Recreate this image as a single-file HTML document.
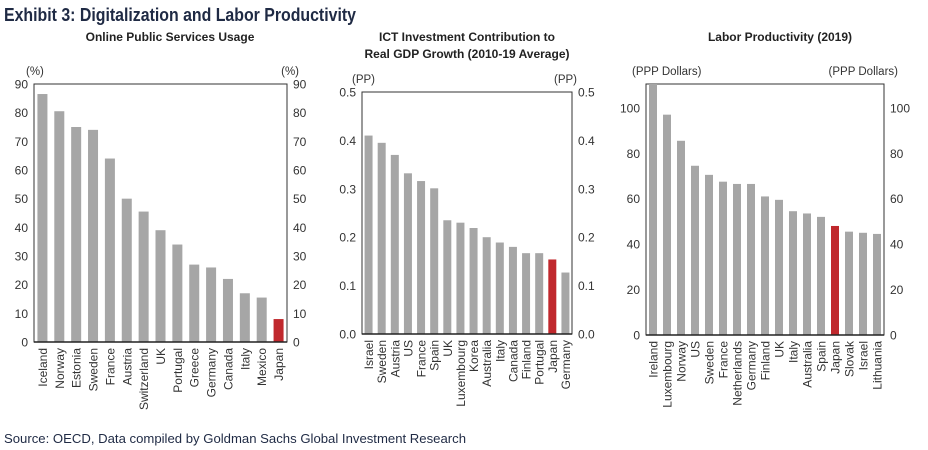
<!DOCTYPE html>
<html><head><meta charset="utf-8"><style>
html,body{margin:0;padding:0;background:#fff;}
svg{display:block;font-family:"Liberation Sans",Arial,sans-serif;}
</style></head><body>
<svg id="s" width="928" height="450" viewBox="0 0 928 450" xmlns="http://www.w3.org/2000/svg">
<text x="4" y="21" font-size="18" font-weight="bold" fill="#1f2a44" textLength="352" lengthAdjust="spacingAndGlyphs">Exhibit 3: Digitalization and Labor Productivity</text>
<text x="170" y="41" font-size="12" font-weight="bold" fill="#222" text-anchor="middle">Online Public Services Usage</text>
<text x="467" y="41" font-size="12" font-weight="bold" fill="#222" text-anchor="middle">ICT Investment Contribution to</text>
<text x="467" y="58" font-size="12" font-weight="bold" fill="#222" text-anchor="middle">Real GDP Growth (2010-19 Average)</text>
<text x="780" y="41" font-size="12" font-weight="bold" fill="#222" text-anchor="middle">Labor Productivity (2019)</text>
<text x="4" y="443" font-size="13" fill="#1f2a44" textLength="462" lengthAdjust="spacingAndGlyphs">Source: OECD, Data compiled by Goldman Sachs Global Investment Research</text>
</svg>
<script>
const c1Cats=["Iceland","Norway","Estonia","Sweden","France","Austria","Switzerland","UK","Portugal","Greece","Germany","Canada","Italy","Mexico","Japan"];
const c1Vals=[86.5,80.5,75,74,64,50,45.5,39,34,27,26,22,17,15.5,8];
const c1Ticks=["0","10","20","30","40","50","60","70","80","90"];
const c2Cats=["Israel","Sweden","Austria","US","France","Spain","UK","Luxembourg","Korea","Australia","Italy","Canada","Finland","Portugal","Japan","Germany"];
const c2Vals=[0.41,0.395,0.37,0.332,0.316,0.301,0.235,0.23,0.219,0.2,0.189,0.18,0.167,0.167,0.154,0.127];
const c2Ticks=["0.0","0.1","0.2","0.3","0.4","0.5"];
const c3Cats=["Ireland","Luxembourg","Norway","US","Sweden","France","Netherlands","Germany","Finland","UK","Italy","Australia","Spain","Japan","Slovak","Israel","Lithuania"];
const c3Vals=[112,97,85.5,74.5,70.5,67.5,66.5,66.5,61,59.5,54.5,53.5,52,48,45.5,45,44.5];
const c3Ticks=["0","20","40","60","80","100"];
const NS="http://www.w3.org/2000/svg",svg=document.getElementById('s');
function mk(t,a,p){const e=document.createElementNS(NS,t);for(const k in a)e.setAttribute(k,a[k]);(p||svg).appendChild(e);return e;}
function chart(id,cats,vals,ticks,o){
  const g=mk('g',{});
  
  
  const y=v=>o.b-(v-o.min)/(o.max-o.min)*(o.b-o.t);
  const n=cats.length,step=(o.r-o.l)/n;
  const x=i=>o.l+step*(i+0.5);
  const fr=mk('rect',{x:o.l,y:o.t,width:o.r-o.l,height:o.b-o.t,fill:'none',stroke:'#333','stroke-width':1},g);
  
  
  ticks.forEach(tk=>{const v=parseFloat(tk),yy=y(v)+4.5;
    const a=mk('text',{x:o.l-6,y:yy,'font-size':12,fill:'#333','text-anchor':'end'},g);a.textContent=tk;
    
    
    const b=mk('text',{x:o.r+6,y:yy,'font-size':12,fill:'#333'},g);b.textContent=tk;
    
    
  });
  const ul=mk('text',{x:o.ulx,y:o.t-9,'font-size':11.5,fill:'#333'},g);ul.textContent=o.unit;
  
  
  const ur=mk('text',{x:o.urx,y:o.t-9,'font-size':11.5,fill:'#333','text-anchor':'end'},g);ur.textContent=o.unit;
  
  
  cats.forEach((c,i)=>{
    const v=Math.min(vals[i],o.max);
    const r=mk('rect',{x:x(i)-o.w/2,y:y(v),width:o.w,height:y(o.min)-y(v),fill:c==='Japan'?'#c0282d':'#a6a6a6'},g);
    
    
    const t=mk('text',{x:0,y:0,'font-size':12,fill:'#333','text-anchor':'end',transform:`translate(${x(i)+4.5},${o.b+6}) rotate(-90)`},g);
    t.textContent=c;
    
    
  });
  const ax=mk('line',{x1:o.l,x2:o.r,y1:o.b,y2:o.b,stroke:'#222','stroke-width':1.5},g);
  
  
}
chart('chart-online-services',c1Cats,c1Vals,c1Ticks,{l:34,r:287,t:84,b:342,min:0,max:90,w:10,unit:'(%)',ulx:26,urx:299});
chart('chart-ict-investment',c2Cats,c2Vals,c2Ticks,{l:362,r:572,t:92,b:334,min:0,max:0.5,w:8,unit:'(PP)',ulx:352,urx:577});
chart('chart-labor-productivity',c3Cats,c3Vals,c3Ticks,{l:646,r:884,t:84,b:335,min:0,max:110.5,w:8,unit:'(PPP Dollars)',ulx:632,urx:898});
</script>
</body></html>
